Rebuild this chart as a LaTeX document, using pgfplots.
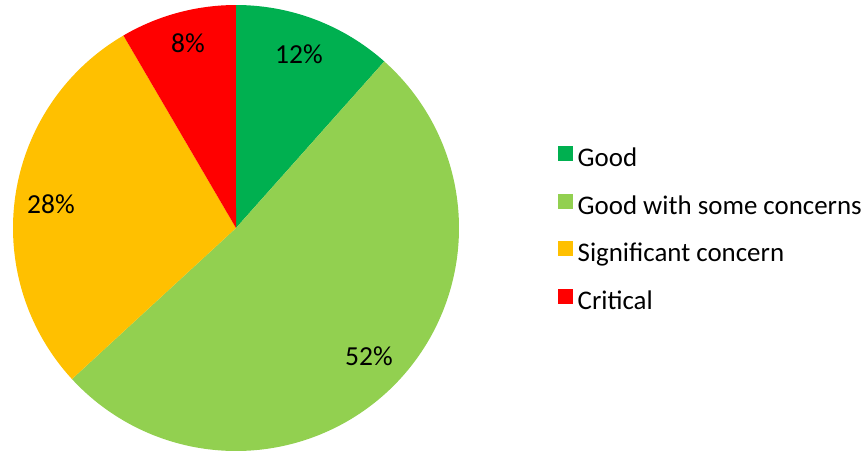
\documentclass[border=0pt]{standalone}
\usepackage{pgfplots}
\pgfplotsset{compat=1.18}
\usepackage{fontspec}
\setmainfont{Carlito}

\definecolor{cGood}{HTML}{00B050}
\definecolor{cSome}{HTML}{92D050}
\definecolor{cSig}{HTML}{FFC000}
\definecolor{cCrit}{HTML}{FF0000}

% counts per rating
\def\nGood{11}
\def\nSome{49}
\def\nSig{27}
\def\nCrit{8}
\pgfmathsetmacro\total{\nGood+\nSome+\nSig+\nCrit}
% slice boundaries, clockwise from 12 o'clock
\pgfmathsetmacro\aA{90}
\pgfmathsetmacro\aB{\aA-360*(\nGood/\total)}
\pgfmathsetmacro\aC{\aB-360*(\nSome/\total)}
\pgfmathsetmacro\aD{\aC-360*(\nSig/\total)}
\pgfmathsetmacro\aE{\aD-360*(\nCrit/\total)}

\newcommand{\cx}{236}
\newcommand{\cy}{223}
\newcommand{\rr}{223}

\begin{document}
\begin{tikzpicture}
\path[use as bounding box] (0,0) rectangle (864pt,451pt);
\begin{axis}[
    at={(0,0)}, anchor=south west,
    scale only axis, width=864pt, height=451pt,
    xmin=0, xmax=864, ymin=0, ymax=451,
    hide axis, clip=false,
    legend image code/.code={\fill[#1] (0pt,-1pt) rectangle (15pt,14pt);},
    legend cell align=left,
    legend style={
      at={(axis cs:558,305)}, anchor=north west,
      draw=none, fill=none, inner sep=0pt,
      font=\fontsize{26.9}{31}\selectfont,
      row sep=22.1pt,
      nodes={text height=18pt, text depth=5pt, inner sep=0pt, outer sep=0pt},
    },
  ]
  \addplot[draw=none, fill=cGood, domain=\aB:\aA, samples=60]
    ({\cx+\rr*cos(x)}, {\cy+\rr*sin(x)}) -- (axis cs:\cx,\cy) -- cycle;
  \addlegendentry{\,Good}
  \addplot[draw=none, fill=cSome, domain=\aC:\aB, samples=200]
    ({\cx+\rr*cos(x)}, {\cy+\rr*sin(x)}) -- (axis cs:\cx,\cy) -- cycle;
  \addlegendentry{\,Good with some concerns}
  \addplot[draw=none, fill=cSig, domain=\aD:\aC, samples=120]
    ({\cx+\rr*cos(x)}, {\cy+\rr*sin(x)}) -- (axis cs:\cx,\cy) -- cycle;
  \addlegendentry{\,Significant concern}
  \addplot[draw=none, fill=cCrit, domain=\aE:\aD, samples=40]
    ({\cx+\rr*cos(x)}, {\cy+\rr*sin(x)}) -- (axis cs:\cx,\cy) -- cycle;
  \addlegendentry{\,Critical}

  \begin{scope}[every node/.style={font=\fontsize{27.5}{32}\selectfont}]
    \node at (axis cs:299,397) {12\%};
    \node at (axis cs:369,95) {52\%};
    \node at (axis cs:51,247) {28\%};
    \node at (axis cs:188,408) {8\%};
  \end{scope}
\end{axis}
\end{tikzpicture}
\end{document}
